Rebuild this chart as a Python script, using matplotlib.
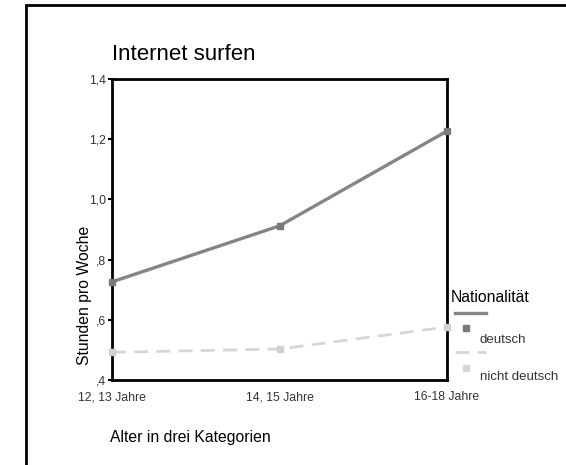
import matplotlib
matplotlib.use("Agg")
import matplotlib.pyplot as plt
from matplotlib.lines import Line2D
from matplotlib.patches import Rectangle

plt.rcParams['font.family'] = ['Liberation Sans', 'DejaVu Sans']

# data
categories = ['12, 13 Jahre', '14, 15 Jahre', '16-18 Jahre']
deutsch = [0.726, 0.912, 1.227]
nicht_deutsch = [0.492, 0.503, 0.576]
series_names = ['deutsch', 'nicht deutsch']
y_ticks = [0.4, 0.6, 0.8, 1.0, 1.2, 1.4]
y_tick_labels = [',4', ',6', ',8', '1,0', '1,2', '1,4']

W, H = 566, 465
fig = plt.figure(figsize=(W / 100, H / 100), dpi=100)
ax = fig.add_axes([112 / W, (H - 380) / H, 335 / W, 301 / H])

x = list(range(len(categories)))
ax.plot(x, deutsch, color='#858585', lw=2.4, marker='s', ms=5,
        mfc='#7a7a7a', mec='#7a7a7a', clip_on=False, zorder=3)
ax.plot(x, nicht_deutsch, color='#d6d6d6', lw=2.0, ls=(0, (5, 3)), marker='s', ms=5,
        mfc='#d0d0d0', mec='#d0d0d0', clip_on=False, zorder=3)

ax.set_xlim(0, 2)
ax.set_ylim(0.4, 1.4)
ax.set_xticks(x)
ax.set_xticklabels(categories, fontsize=8.8, color='#333333')
ax.set_yticks(y_ticks)
ax.set_yticklabels(y_tick_labels, fontsize=8.8, color='#333333')
ax.tick_params(axis='y', length=3, width=1.5, pad=1)
ax.tick_params(axis='x', length=0, pad=8)
for s in ax.spines.values():
    s.set_linewidth(2)
    s.set_color('black')

# title and axis labels
fig.text(112 / W, 1 - 55 / H, 'Internet surfen', fontsize=16, va='center', ha='left')
fig.text(84 / W, 1 - 295 / H, 'Stunden pro Woche', fontsize=11.3, rotation=90,
         va='center', ha='center')
fig.text(110 / W, 1 - 437 / H, 'Alter in drei Kategorien', fontsize=11.3,
         va='center', ha='left')

# legend drawn by hand
fig.text(451 / W, 1 - 297 / H, 'Nationalität', fontsize=11.3, va='center', ha='left')
styles = [dict(color='#858585', lw=2.4, ls='-', mc='#7a7a7a'),
          dict(color='#d6d6d6', lw=2.0, ls=(0, (5, 3)), mc='#d6d6d6')]
rows = [(313, 328, 340), (352, 368, 377)]
for name, st, (ly, my, ty) in zip(series_names, styles, rows):
    fig.add_artist(Line2D([455 / W, 486 / W], [1 - ly / H, 1 - ly / H],
                          color=st['color'], lw=st['lw'], ls=st['ls']))
    fig.add_artist(Line2D([466 / W], [1 - my / H], marker='s', ms=5,
                          mfc=st['mc'], mec=st['mc'], ls='none'))
    fig.text(480 / W, 1 - ty / H, name, fontsize=9.5, va='center', ha='left',
             color='#333333')

# outer frame
fig.add_artist(Rectangle((26 / W, -0.1), 1.0, (H - 5) / H + 0.1,
                         transform=fig.transFigure, fill=False,
                         edgecolor='black', lw=2))

fig.savefig('out.png', dpi=100)
